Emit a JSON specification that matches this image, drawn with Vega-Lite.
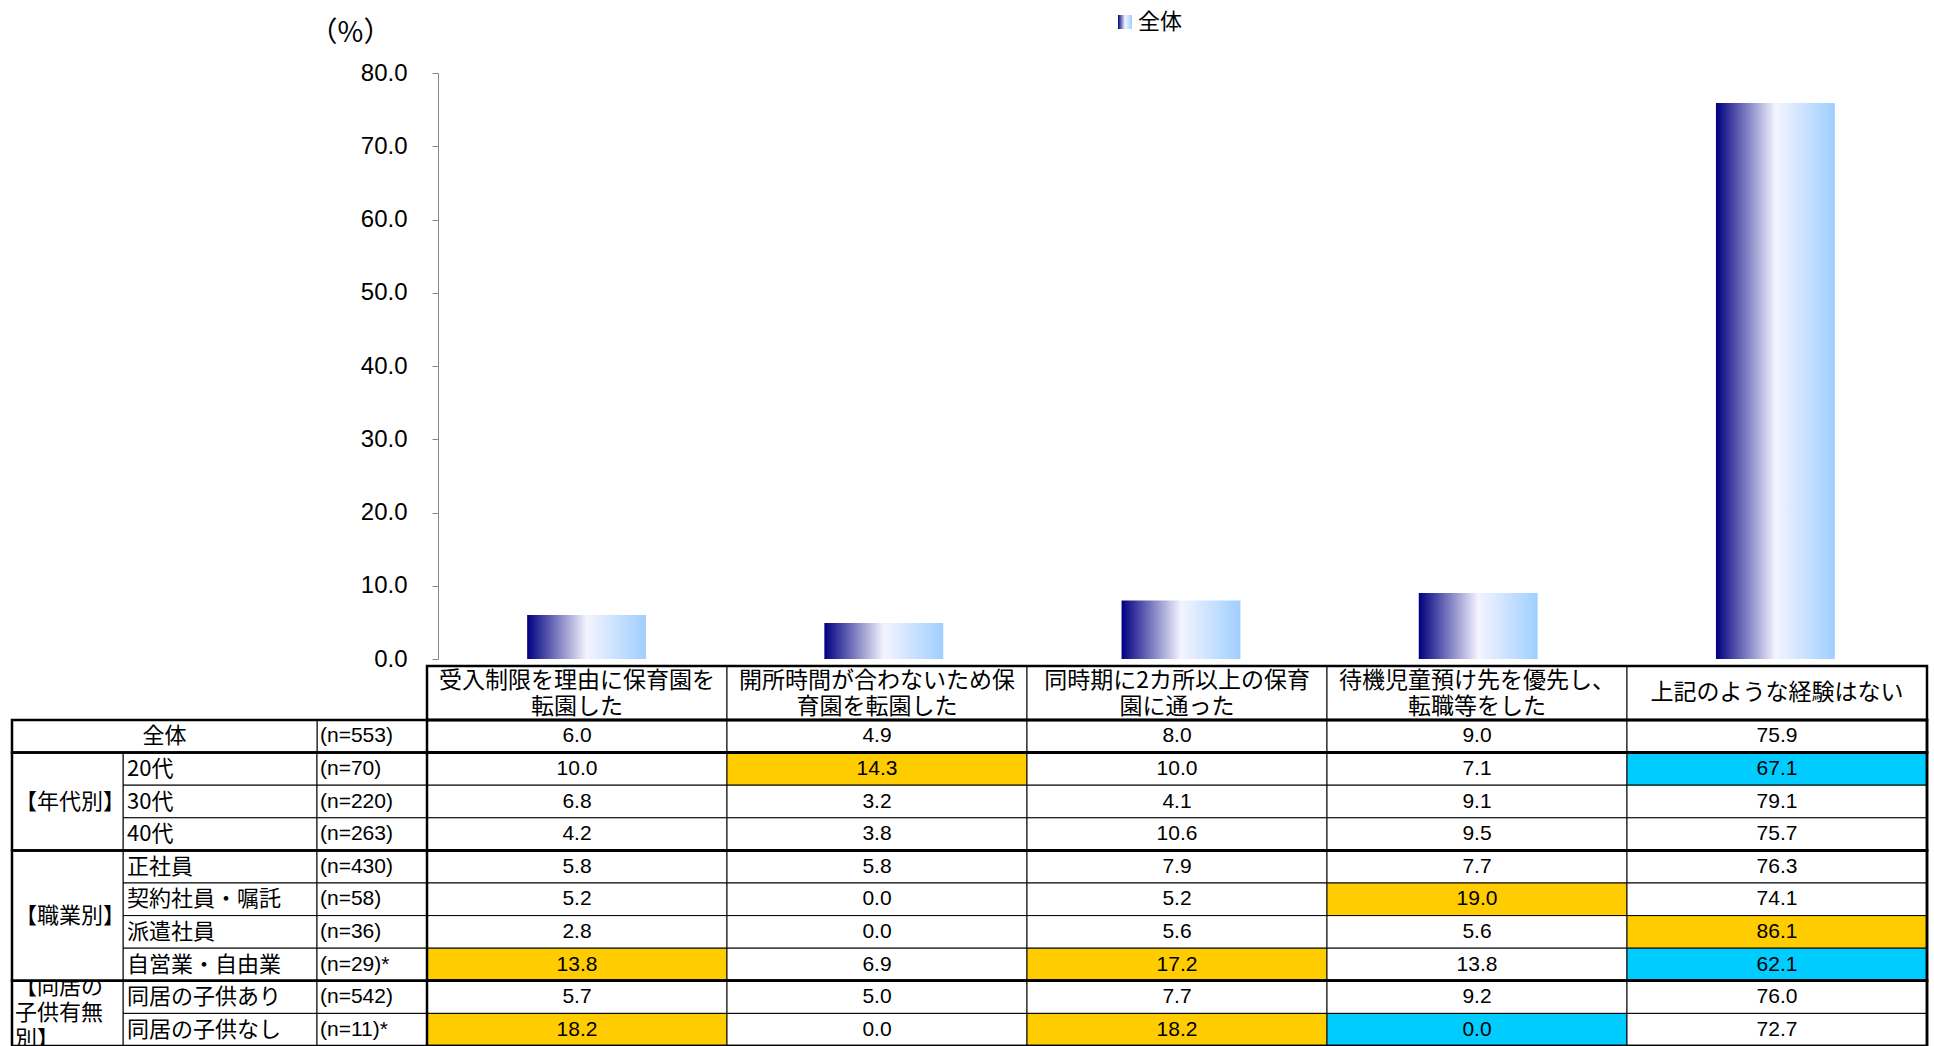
{
  "$schema": "https://vega.github.io/schema/vega-lite/v6.json",
  "width": 1934,
  "height": 1046,
  "autosize": {"type": "none"},
  "padding": 0,
  "background": "white",
  "config": {
    "view": {"stroke": null},
    "font": "Liberation Sans, Noto Sans CJK JP",
    "text": {"font": "Liberation Sans, Noto Sans CJK JP", "fontSize": 21, "color": "#000"}
  },
  "datasets": {
    "items": [
      {"key": "c1", "item": "受入制限を理由に保育園を転園した", "header": "受入制限を理由に保育園を\n転園した", "value": 6.0, "series": "全体"},
      {"key": "c2", "item": "開所時間が合わないため保育園を転園した", "header": "開所時間が合わないため保\n育園を転園した", "value": 4.9, "series": "全体"},
      {"key": "c3", "item": "同時期に2カ所以上の保育園に通った", "header": "同時期に2カ所以上の保育\n園に通った", "value": 8.0, "series": "全体"},
      {"key": "c4", "item": "待機児童預け先を優先し、転職等をした", "header": "待機児童預け先を優先し、\n転職等をした", "value": 9.0, "series": "全体"},
      {"key": "c5", "item": "上記のような経験はない", "header": "上記のような経験はない", "value": 75.9, "series": "全体"}
    ],
    "rows": [
      {"row": "全体", "n": "(n=553)"},
      {"row": "20代", "n": "(n=70)"},
      {"row": "30代", "n": "(n=220)"},
      {"row": "40代", "n": "(n=263)"},
      {"row": "正社員", "n": "(n=430)"},
      {"row": "契約社員・嘱託", "n": "(n=58)"},
      {"row": "派遣社員", "n": "(n=36)"},
      {"row": "自営業・自由業", "n": "(n=29)*"},
      {"row": "同居の子供あり", "n": "(n=542)"},
      {"row": "同居の子供なし", "n": "(n=11)*"}
    ],
    "groups": [
      {"label": "全体", "first": "全体", "next": "20代", "mid": "全体", "span": 1},
      {"label": "【年代別】", "first": "20代", "next": "正社員", "mid": "30代", "span": 3},
      {"label": "【職業別】", "first": "正社員", "next": "同居の子供あり", "mid": "派遣社員", "span": 4},
      {"label": "【同居の\n子供有無\n別】", "first": "同居の子供あり", "next": "_end", "mid": "同居の子供なし", "span": 2}
    ],
    "cells": [
      {"row": "全体", "key": "c1", "value": 6.0, "flag": "none"},
      {"row": "全体", "key": "c2", "value": 4.9, "flag": "none"},
      {"row": "全体", "key": "c3", "value": 8.0, "flag": "none"},
      {"row": "全体", "key": "c4", "value": 9.0, "flag": "none"},
      {"row": "全体", "key": "c5", "value": 75.9, "flag": "none"},
      {"row": "20代", "key": "c1", "value": 10.0, "flag": "none"},
      {"row": "20代", "key": "c2", "value": 14.3, "flag": "high"},
      {"row": "20代", "key": "c3", "value": 10.0, "flag": "none"},
      {"row": "20代", "key": "c4", "value": 7.1, "flag": "none"},
      {"row": "20代", "key": "c5", "value": 67.1, "flag": "low"},
      {"row": "30代", "key": "c1", "value": 6.8, "flag": "none"},
      {"row": "30代", "key": "c2", "value": 3.2, "flag": "none"},
      {"row": "30代", "key": "c3", "value": 4.1, "flag": "none"},
      {"row": "30代", "key": "c4", "value": 9.1, "flag": "none"},
      {"row": "30代", "key": "c5", "value": 79.1, "flag": "none"},
      {"row": "40代", "key": "c1", "value": 4.2, "flag": "none"},
      {"row": "40代", "key": "c2", "value": 3.8, "flag": "none"},
      {"row": "40代", "key": "c3", "value": 10.6, "flag": "none"},
      {"row": "40代", "key": "c4", "value": 9.5, "flag": "none"},
      {"row": "40代", "key": "c5", "value": 75.7, "flag": "none"},
      {"row": "正社員", "key": "c1", "value": 5.8, "flag": "none"},
      {"row": "正社員", "key": "c2", "value": 5.8, "flag": "none"},
      {"row": "正社員", "key": "c3", "value": 7.9, "flag": "none"},
      {"row": "正社員", "key": "c4", "value": 7.7, "flag": "none"},
      {"row": "正社員", "key": "c5", "value": 76.3, "flag": "none"},
      {"row": "契約社員・嘱託", "key": "c1", "value": 5.2, "flag": "none"},
      {"row": "契約社員・嘱託", "key": "c2", "value": 0.0, "flag": "none"},
      {"row": "契約社員・嘱託", "key": "c3", "value": 5.2, "flag": "none"},
      {"row": "契約社員・嘱託", "key": "c4", "value": 19.0, "flag": "high"},
      {"row": "契約社員・嘱託", "key": "c5", "value": 74.1, "flag": "none"},
      {"row": "派遣社員", "key": "c1", "value": 2.8, "flag": "none"},
      {"row": "派遣社員", "key": "c2", "value": 0.0, "flag": "none"},
      {"row": "派遣社員", "key": "c3", "value": 5.6, "flag": "none"},
      {"row": "派遣社員", "key": "c4", "value": 5.6, "flag": "none"},
      {"row": "派遣社員", "key": "c5", "value": 86.1, "flag": "high"},
      {"row": "自営業・自由業", "key": "c1", "value": 13.8, "flag": "high"},
      {"row": "自営業・自由業", "key": "c2", "value": 6.9, "flag": "none"},
      {"row": "自営業・自由業", "key": "c3", "value": 17.2, "flag": "high"},
      {"row": "自営業・自由業", "key": "c4", "value": 13.8, "flag": "none"},
      {"row": "自営業・自由業", "key": "c5", "value": 62.1, "flag": "low"},
      {"row": "同居の子供あり", "key": "c1", "value": 5.7, "flag": "none"},
      {"row": "同居の子供あり", "key": "c2", "value": 5.0, "flag": "none"},
      {"row": "同居の子供あり", "key": "c3", "value": 7.7, "flag": "none"},
      {"row": "同居の子供あり", "key": "c4", "value": 9.2, "flag": "none"},
      {"row": "同居の子供あり", "key": "c5", "value": 76.0, "flag": "none"},
      {"row": "同居の子供なし", "key": "c1", "value": 18.2, "flag": "high"},
      {"row": "同居の子供なし", "key": "c2", "value": 0.0, "flag": "none"},
      {"row": "同居の子供なし", "key": "c3", "value": 18.2, "flag": "high"},
      {"row": "同居の子供なし", "key": "c4", "value": 0.0, "flag": "low"},
      {"row": "同居の子供なし", "key": "c5", "value": 72.7, "flag": "none"}
    ]
  },
  "layer": [
    {
      "data": {"name": "items"},
      "mark": {"type": "bar", "color": {"gradient": "linear", "x1": 0, "y1": 0, "x2": 1, "y2": 0,
        "stops": [{"offset": 0, "color": "#000080"}, {"offset": 0.5, "color": "#f4f4ff"}, {"offset": 1, "color": "#9fcfff"}]}},
      "encoding": {
        "x": {"field": "key", "type": "nominal", "axis": null,
          "scale": {"type": "band", "domain": ["c1", "c2", "c3", "c4", "c5"], "range": [438, 1924], "paddingInner": 0.6, "paddingOuter": 0.3}},
        "y": {"field": "value", "type": "quantitative",
          "scale": {"domain": [0, 80], "range": [659, 73], "nice": false, "zero": true},
          "axis": {"orient": "left", "offset": -438, "values": [0, 10, 20, 30, 40, 50, 60, 70, 80], "format": ".1f", "grid": false,
            "domainColor": "#888", "tickColor": "#888", "tickSize": 6, "labelPadding": 25, "labelFlush": false,
            "labelFontSize": 24, "labelColor": "#000", "labelFont": "Liberation Sans",
            "title": "（%）", "titleAngle": 0, "titleX": -88, "titleY": 33, "titleAlign": "center", "titleBaseline": "middle",
            "titleFontSize": 28, "titleFontWeight": "normal", "titleFont": "Noto Sans CJK JP", "titleColor": "#000"}},
        "opacity": {"field": "series", "type": "ordinal",
          "scale": {"domain": ["全体"], "range": [1]},
          "legend": {"orient": "none", "legendX": 1114, "legendY": 11, "title": null, "labelFontSize": 22, "labelFont": "Noto Sans CJK JP",
            "labelColor": "#000", "symbolType": "square", "symbolSize": 196, "symbolStrokeWidth": 0, "padding": 0, "labelOffset": 2,
            "encode": {"symbols": {"update": {"fill": {"value": {"gradient": "linear", "x1": 0, "y1": 0, "x2": 1, "y2": 0,
              "stops": [{"offset": 0, "color": "#000080"}, {"offset": 0.5, "color": "#f4f4ff"}, {"offset": 1, "color": "#9fcfff"}]}},
              "stroke": {"value": "transparent"}, "opacity": {"value": 1}}}}}}
      }
    },
    {
      "data": {"name": "items"},
      "mark": {"type": "rect", "fill": "#fff", "stroke": "#000", "strokeWidth": 1},
      "encoding": {
        "x": {"field": "key", "type": "nominal", "axis": null, "scale": {"type": "band", "domain": ["c1", "c2", "c3", "c4", "c5"], "range": [427, 1927], "paddingInner": 0, "paddingOuter": 0}},
        "y": {"datum": "h", "type": "nominal", "axis": null, "scale": {"type": "band", "domain": ["h"], "range": [666, 720], "paddingInner": 0, "paddingOuter": 0}}
      }
    },
    {
      "data": {"name": "items"},
      "transform": [{"filter": "indexof(datum.header, '\\n') >= 0"}],
      "mark": {"type": "text", "lineBreak": "\n", "lineHeight": 26, "fontSize": 23, "font": "Noto Sans CJK JP", "baseline": "middle", "align": "center", "dy": -12},
      "encoding": {
        "x": {"field": "key", "type": "nominal", "axis": null, "scale": {"type": "band", "domain": ["c1", "c2", "c3", "c4", "c5"], "range": [427, 1927], "paddingInner": 0, "paddingOuter": 0}},
        "y": {"datum": "h", "type": "nominal", "axis": null, "scale": {"type": "band", "domain": ["h"], "range": [666, 720], "paddingInner": 0, "paddingOuter": 0}},
        "text": {"field": "header", "type": "nominal"}
      }
    },
    {
      "data": {"name": "items"},
      "transform": [{"filter": "indexof(datum.header, '\\n') < 0"}],
      "mark": {"type": "text", "fontSize": 23, "font": "Noto Sans CJK JP", "baseline": "middle", "align": "center"},
      "encoding": {
        "x": {"field": "key", "type": "nominal", "axis": null, "scale": {"type": "band", "domain": ["c1", "c2", "c3", "c4", "c5"], "range": [427, 1927], "paddingInner": 0, "paddingOuter": 0}},
        "y": {"datum": "h", "type": "nominal", "axis": null, "scale": {"type": "band", "domain": ["h"], "range": [666, 720], "paddingInner": 0, "paddingOuter": 0}},
        "text": {"field": "header", "type": "nominal"}
      }
    },
    {
      "data": {"name": "cells"},
      "mark": {"type": "rect", "stroke": "#000", "strokeWidth": 1},
      "encoding": {
        "x": {"field": "key", "type": "nominal", "axis": null, "scale": {"type": "band", "domain": ["c1", "c2", "c3", "c4", "c5"], "range": [427, 1927], "paddingInner": 0, "paddingOuter": 0}},
        "y": {"field": "row", "type": "nominal", "axis": null, "scale": {"type": "band", "domain": ["全体", "20代", "30代", "40代", "正社員", "契約社員・嘱託", "派遣社員", "自営業・自由業", "同居の子供あり", "同居の子供なし", "_end"], "range": [720, 1078.6], "paddingInner": 0, "paddingOuter": 0}},
        "color": {"field": "flag", "type": "nominal", "scale": {"domain": ["high", "low", "none"], "range": ["#FFCC00", "#00CCFF", "#FFFFFF"]}, "legend": null}
      }
    },
    {
      "data": {"name": "cells"},
      "mark": {"type": "text", "fontSize": 21, "font": "Liberation Sans", "baseline": "middle", "align": "center"},
      "encoding": {
        "x": {"field": "key", "type": "nominal", "axis": null, "scale": {"type": "band", "domain": ["c1", "c2", "c3", "c4", "c5"], "range": [427, 1927], "paddingInner": 0, "paddingOuter": 0}},
        "y": {"field": "row", "type": "nominal", "axis": null, "scale": {"type": "band", "domain": ["全体", "20代", "30代", "40代", "正社員", "契約社員・嘱託", "派遣社員", "自営業・自由業", "同居の子供あり", "同居の子供なし", "_end"], "range": [720, 1078.6], "paddingInner": 0, "paddingOuter": 0}},
        "text": {"field": "value", "type": "quantitative", "format": ".1f"}
      }
    },
    {
      "data": {"name": "rows"},
      "transform": [{"filter": "datum.row != '全体'"}],
      "mark": {"type": "rect", "fill": "#fff", "stroke": "#000", "strokeWidth": 1},
      "encoding": {
        "x": {"datum": "B", "type": "nominal", "axis": null, "scale": {"type": "band", "domain": ["B"], "range": [123, 317], "paddingInner": 0, "paddingOuter": 0}},
        "y": {"field": "row", "type": "nominal", "axis": null, "scale": {"type": "band", "domain": ["全体", "20代", "30代", "40代", "正社員", "契約社員・嘱託", "派遣社員", "自営業・自由業", "同居の子供あり", "同居の子供なし", "_end"], "range": [720, 1078.6], "paddingInner": 0, "paddingOuter": 0}}
      }
    },
    {
      "data": {"name": "rows"},
      "transform": [{"filter": "datum.row != '全体'"}],
      "mark": {"type": "text", "fontSize": 22, "font": "Noto Sans CJK JP", "baseline": "middle", "align": "left", "dx": 4},
      "encoding": {
        "x": {"datum": "B", "type": "nominal", "bandPosition": 0, "axis": null, "scale": {"type": "band", "domain": ["B"], "range": [123, 317], "paddingInner": 0, "paddingOuter": 0}},
        "y": {"field": "row", "type": "nominal", "axis": null, "scale": {"type": "band", "domain": ["全体", "20代", "30代", "40代", "正社員", "契約社員・嘱託", "派遣社員", "自営業・自由業", "同居の子供あり", "同居の子供なし", "_end"], "range": [720, 1078.6], "paddingInner": 0, "paddingOuter": 0}},
        "text": {"field": "row", "type": "nominal"}
      }
    },
    {
      "data": {"name": "rows"},
      "mark": {"type": "rect", "fill": "#fff", "stroke": "#000", "strokeWidth": 1},
      "encoding": {
        "x": {"datum": "C", "type": "nominal", "axis": null, "scale": {"type": "band", "domain": ["C"], "range": [317, 427], "paddingInner": 0, "paddingOuter": 0}},
        "y": {"field": "row", "type": "nominal", "axis": null, "scale": {"type": "band", "domain": ["全体", "20代", "30代", "40代", "正社員", "契約社員・嘱託", "派遣社員", "自営業・自由業", "同居の子供あり", "同居の子供なし", "_end"], "range": [720, 1078.6], "paddingInner": 0, "paddingOuter": 0}}
      }
    },
    {
      "data": {"name": "rows"},
      "mark": {"type": "text", "fontSize": 21, "font": "Liberation Sans", "baseline": "middle", "align": "left", "dx": 3},
      "encoding": {
        "x": {"datum": "C", "type": "nominal", "bandPosition": 0, "axis": null, "scale": {"type": "band", "domain": ["C"], "range": [317, 427], "paddingInner": 0, "paddingOuter": 0}},
        "y": {"field": "row", "type": "nominal", "axis": null, "scale": {"type": "band", "domain": ["全体", "20代", "30代", "40代", "正社員", "契約社員・嘱託", "派遣社員", "自営業・自由業", "同居の子供あり", "同居の子供なし", "_end"], "range": [720, 1078.6], "paddingInner": 0, "paddingOuter": 0}},
        "text": {"field": "n", "type": "nominal"}
      }
    },
    {
      "data": {"name": "rows"},
      "transform": [{"filter": "datum.row == '全体'"}],
      "mark": {"type": "rect", "fill": "#fff", "stroke": "#000", "strokeWidth": 1},
      "encoding": {
        "x": {"datum": "AB", "type": "nominal", "axis": null, "scale": {"type": "band", "domain": ["AB"], "range": [12, 317], "paddingInner": 0, "paddingOuter": 0}},
        "y": {"field": "row", "type": "nominal", "axis": null, "scale": {"type": "band", "domain": ["全体", "20代", "30代", "40代", "正社員", "契約社員・嘱託", "派遣社員", "自営業・自由業", "同居の子供あり", "同居の子供なし", "_end"], "range": [720, 1078.6], "paddingInner": 0, "paddingOuter": 0}}
      }
    },
    {
      "data": {"name": "rows"},
      "transform": [{"filter": "datum.row == '全体'"}],
      "mark": {"type": "text", "fontSize": 22, "font": "Noto Sans CJK JP", "baseline": "middle", "align": "center"},
      "encoding": {
        "x": {"datum": "AB", "type": "nominal", "axis": null, "scale": {"type": "band", "domain": ["AB"], "range": [12, 317], "paddingInner": 0, "paddingOuter": 0}},
        "y": {"field": "row", "type": "nominal", "axis": null, "scale": {"type": "band", "domain": ["全体", "20代", "30代", "40代", "正社員", "契約社員・嘱託", "派遣社員", "自営業・自由業", "同居の子供あり", "同居の子供なし", "_end"], "range": [720, 1078.6], "paddingInner": 0, "paddingOuter": 0}},
        "text": {"field": "row", "type": "nominal"}
      }
    },
    {
      "data": {"name": "groups"},
      "transform": [{"filter": "datum.span == 2"}],
      "mark": {"type": "rect", "fill": "#fff", "stroke": "#000", "strokeWidth": 1},
      "encoding": {
        "x": {"datum": "A", "type": "nominal", "axis": null, "scale": {"type": "band", "domain": ["A"], "range": [12, 123], "paddingInner": 0, "paddingOuter": 0}},
        "y": {"field": "first", "type": "nominal", "bandPosition": 0, "axis": null, "scale": {"type": "band", "domain": ["全体", "20代", "30代", "40代", "正社員", "契約社員・嘱託", "派遣社員", "自営業・自由業", "同居の子供あり", "同居の子供なし", "_end"], "range": [720, 1078.6], "paddingInner": 0, "paddingOuter": 0}},
        "y2": {"field": "next", "bandPosition": 0}
      }
    },
    {
      "data": {"name": "groups"},
      "transform": [{"filter": "datum.span == 2"}],
      "mark": {"type": "text", "fontSize": 22, "font": "Noto Sans CJK JP", "baseline": "middle", "align": "left", "dx": 3, "dy": -26, "lineBreak": "\n", "lineHeight": 26},
      "encoding": {
        "x": {"datum": "A", "type": "nominal", "bandPosition": 0, "axis": null, "scale": {"type": "band", "domain": ["A"], "range": [12, 123], "paddingInner": 0, "paddingOuter": 0}},
        "y": {"field": "mid", "type": "nominal", "bandPosition": 0, "axis": null, "scale": {"type": "band", "domain": ["全体", "20代", "30代", "40代", "正社員", "契約社員・嘱託", "派遣社員", "自営業・自由業", "同居の子供あり", "同居の子供なし", "_end"], "range": [720, 1078.6], "paddingInner": 0, "paddingOuter": 0}},
        "text": {"field": "label", "type": "nominal"}
      }
    },
    {
      "data": {"name": "groups"},
      "transform": [{"filter": "datum.span == 3 || datum.span == 4"}],
      "mark": {"type": "rect", "fill": "#fff", "stroke": "#000", "strokeWidth": 1},
      "encoding": {
        "x": {"datum": "A", "type": "nominal", "axis": null, "scale": {"type": "band", "domain": ["A"], "range": [12, 123], "paddingInner": 0, "paddingOuter": 0}},
        "y": {"field": "first", "type": "nominal", "bandPosition": 0, "axis": null, "scale": {"type": "band", "domain": ["全体", "20代", "30代", "40代", "正社員", "契約社員・嘱託", "派遣社員", "自営業・自由業", "同居の子供あり", "同居の子供なし", "_end"], "range": [720, 1078.6], "paddingInner": 0, "paddingOuter": 0}},
        "y2": {"field": "next", "bandPosition": 0}
      }
    },
    {
      "data": {"name": "groups"},
      "transform": [{"filter": "datum.span == 3"}],
      "mark": {"type": "text", "fontSize": 22, "font": "Noto Sans CJK JP", "baseline": "middle", "align": "left", "dx": 3},
      "encoding": {
        "x": {"datum": "A", "type": "nominal", "bandPosition": 0, "axis": null, "scale": {"type": "band", "domain": ["A"], "range": [12, 123], "paddingInner": 0, "paddingOuter": 0}},
        "y": {"field": "mid", "type": "nominal", "bandPosition": 0.5, "axis": null, "scale": {"type": "band", "domain": ["全体", "20代", "30代", "40代", "正社員", "契約社員・嘱託", "派遣社員", "自営業・自由業", "同居の子供あり", "同居の子供なし", "_end"], "range": [720, 1078.6], "paddingInner": 0, "paddingOuter": 0}},
        "text": {"field": "label", "type": "nominal"}
      }
    },
    {
      "data": {"name": "groups"},
      "transform": [{"filter": "datum.span == 4"}],
      "mark": {"type": "text", "fontSize": 22, "font": "Noto Sans CJK JP", "baseline": "middle", "align": "left", "dx": 3},
      "encoding": {
        "x": {"datum": "A", "type": "nominal", "bandPosition": 0, "axis": null, "scale": {"type": "band", "domain": ["A"], "range": [12, 123], "paddingInner": 0, "paddingOuter": 0}},
        "y": {"field": "mid", "type": "nominal", "bandPosition": 0, "axis": null, "scale": {"type": "band", "domain": ["全体", "20代", "30代", "40代", "正社員", "契約社員・嘱託", "派遣社員", "自営業・自由業", "同居の子供あり", "同居の子供なし", "_end"], "range": [720, 1078.6], "paddingInner": 0, "paddingOuter": 0}},
        "text": {"field": "label", "type": "nominal"}
      }
    },
    {
      "data": {"name": "groups"},
      "mark": {"type": "rect", "filled": false, "color": "#000", "strokeWidth": 2.5},
      "encoding": {
        "x": {"datum": "ALL", "type": "nominal", "axis": null, "scale": {"type": "band", "domain": ["ALL"], "range": [12, 1927], "paddingInner": 0, "paddingOuter": 0}},
        "y": {"field": "first", "type": "nominal", "bandPosition": 0, "axis": null, "scale": {"type": "band", "domain": ["全体", "20代", "30代", "40代", "正社員", "契約社員・嘱託", "派遣社員", "自営業・自由業", "同居の子供あり", "同居の子供なし", "_end"], "range": [720, 1078.6], "paddingInner": 0, "paddingOuter": 0}},
        "y2": {"field": "next", "bandPosition": 0}
      }
    },
    {
      "data": {"name": "groups"},
      "mark": {"type": "rect", "filled": false, "color": "#000", "strokeWidth": 2.5},
      "encoding": {
        "x": {"datum": "D", "type": "nominal", "axis": null, "scale": {"type": "band", "domain": ["D"], "range": [427, 1927], "paddingInner": 0, "paddingOuter": 0}},
        "y": {"field": "first", "type": "nominal", "bandPosition": 0, "axis": null, "scale": {"type": "band", "domain": ["全体", "20代", "30代", "40代", "正社員", "契約社員・嘱託", "派遣社員", "自営業・自由業", "同居の子供あり", "同居の子供なし", "_end"], "range": [720, 1078.6], "paddingInner": 0, "paddingOuter": 0}},
        "y2": {"field": "next", "bandPosition": 0}
      }
    },
    {
      "data": {"name": "items"},
      "transform": [{"aggregate": [{"op": "count", "as": "count"}]}],
      "mark": {"type": "rect", "filled": false, "color": "#000", "strokeWidth": 2.5},
      "encoding": {
        "x": {"datum": "D", "type": "nominal", "axis": null, "scale": {"type": "band", "domain": ["D"], "range": [427, 1927], "paddingInner": 0, "paddingOuter": 0}},
        "y": {"datum": "h", "type": "nominal", "axis": null, "scale": {"type": "band", "domain": ["h"], "range": [666, 720], "paddingInner": 0, "paddingOuter": 0}}
      }
    }
  ],
  "resolve": {"scale": {"x": "independent", "y": "independent", "color": "independent", "opacity": "independent"}}
}
